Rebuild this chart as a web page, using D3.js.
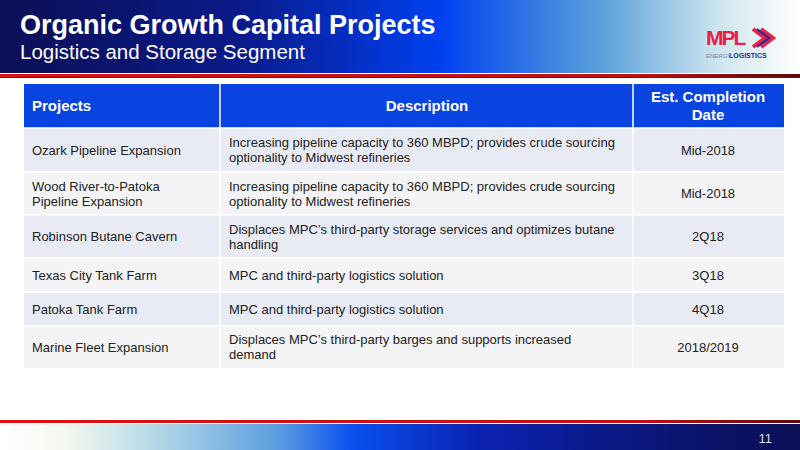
<!DOCTYPE html><html><head><meta charset="utf-8"><script src="https://cdn.jsdelivr.net/npm/d3@7"></script>
<style>body{margin:0}svg{display:block;font-family:Arial,"Liberation Sans",sans-serif}</style></head><body><svg id="c" width="800" height="450"></svg>
<script>
const title="Organic Growth Capital Projects";
const subtitle="Logistics and Storage Segment";
const headers=["Projects","Description","Est. Completion Date"];
const projects=[["Ozark Pipeline Expansion"],["Wood River-to-Patoka","Pipeline Expansion"],["Robinson Butane Cavern"],["Texas City Tank Farm"],["Patoka Tank Farm"],["Marine Fleet Expansion"]];
const descriptions=[["Increasing pipeline capacity to 360 MBPD; provides crude sourcing","optionality to Midwest refineries"],["Increasing pipeline capacity to 360 MBPD; provides crude sourcing","optionality to Midwest refineries"],["Displaces MPC’s third-party storage services and optimizes butane","handling"],["MPC and third-party logistics solution"],["MPC and third-party logistics solution"],["Displaces MPC’s third-party barges and supports increased","demand"]];
const dates=["Mid-2018","Mid-2018","2Q18","3Q18","4Q18","2018/2019"];
const pageNum="11";
const svg=d3.select("#c");
const defs=svg.append("defs");
const g1=defs.append("linearGradient").attr("id","hg");
[[0,"#0b0f55"],[0.3,"#0a1a8a"],[0.55,"#0040f0"],[0.75,"#5aa0dc"],[0.9,"#cfe6ee"],[1,"#ffffff"]].forEach(s=>g1.append("stop").attr("offset",s[0]).attr("stop-color",s[1]));
const g2=defs.append("linearGradient").attr("id","fg");
[[0,"#ffffff"],[0.08,"#f4f8f0"],[0.2,"#b0d6e6"],[0.35,"#5a9ce0"],[0.44,"#0a50f0"],[0.6,"#0a22b0"],[0.85,"#0a1470"],[1,"#0b0f55"]].forEach(s=>g2.append("stop").attr("offset",s[0]).attr("stop-color",s[1]));
const g3=defs.append("linearGradient").attr("id","rg");
[[0,"#e01010"],[0.8,"#c01010"],[1,"#5a0a0a"]].forEach(s=>g3.append("stop").attr("offset",s[0]).attr("stop-color",s[1]));
svg.append("rect").attr("width",800).attr("height",450).attr("fill","#fff");
svg.append("rect").attr("width",800).attr("height",73).attr("fill","url(#hg)");
svg.append("rect").attr("y",74).attr("width",800).attr("height",3).attr("fill","url(#rg)");
svg.append("rect").attr("y",77).attr("width",800).attr("height",1).attr("fill","#3a2a2a");
svg.append("text").attr("x",20).attr("y",34).attr("fill","#fff").attr("font-size",27).attr("font-weight","bold").text(title);
svg.append("text").attr("x",20).attr("y",59).attr("fill","#fff").attr("font-size",20.5).text(subtitle);
// logo
svg.append("text").attr("x",706).attr("y",45).attr("fill","#e8204a").attr("font-size",21).attr("font-weight","bold").attr("letter-spacing",-2).text("MPL");
svg.append("path").attr("d","M753,29 L765,38 L753,47 M761,29 L773,38 L761,47").attr("stroke","#e8204a").attr("stroke-width",4).attr("fill","none");
svg.append("path").attr("d","M757,29 L769,38 L757,47").attr("stroke","#1a2a9a").attr("stroke-width",2).attr("fill","none");
svg.append("text").attr("x",706).attr("y",58).attr("fill","#7a7aa8").attr("font-size",6).text("ENERGY");
svg.append("text").attr("x",729).attr("y",58).attr("fill","#1a2a9a").attr("font-size",7).attr("font-weight","bold").text("LOGISTICS");
// table
const rowY=[84,128,172,215,258,292,326,368];
svg.append("rect").attr("x",24).attr("y",84).attr("width",760).attr("height",44).attr("fill","#0a44e0");
const rows=svg.selectAll("g.r").data(d3.range(6)).join("g");
rows.append("rect").attr("x",24).attr("y",i=>rowY[i+1]).attr("width",760).attr("height",i=>rowY[i+2]-rowY[i+1]).attr("fill",i=>i%2?"#f4f4f7":"#e9ebf4");
[220,633].forEach(x=>svg.append("line").attr("x1",x).attr("x2",x).attr("y1",84).attr("y2",368).attr("stroke","#fff").attr("stroke-width",1.5));
rowY.slice(1,-1).forEach(yy=>svg.append("line").attr("x1",24).attr("x2",784).attr("y1",yy).attr("y2",yy).attr("stroke","#fff").attr("stroke-width",1.5));
function lines(x,cy,arr,anchor,size,color,weight,lh){
  const t=svg.append("text").attr("x",x).attr("text-anchor",anchor).attr("font-size",size).attr("fill",color).attr("font-weight",weight);
  arr.forEach((s,i)=>t.append("tspan").attr("x",x).attr("y",cy-(arr.length-1)*lh/2+i*lh+size*0.35).text(s));
}
lines(32,106,[headers[0]],"start",15,"#fff","bold",18);
lines(427,106,[headers[1]],"middle",15,"#fff","bold",18);
lines(708,106,["Est. Completion","Date"],"middle",15,"#fff","bold",18);
for(let i=0;i<6;i++){
  const cy=(rowY[i+1]+rowY[i+2])/2;
  lines(32,cy,projects[i],"start",13,"#222","normal",15);
  lines(229,cy,descriptions[i],"start",13,"#222","normal",15);
  lines(708,cy,[dates[i]],"middle",13,"#222","normal",15);
}
// footer
svg.append("rect").attr("y",420).attr("width",800).attr("height",3).attr("fill","url(#rg)");
svg.append("rect").attr("y",424).attr("width",800).attr("height",26).attr("fill","url(#fg)");
svg.append("text").attr("x",772).attr("y",443).attr("text-anchor","end").attr("fill","#dde").attr("font-size",13).text(pageNum);
</script></body></html>
